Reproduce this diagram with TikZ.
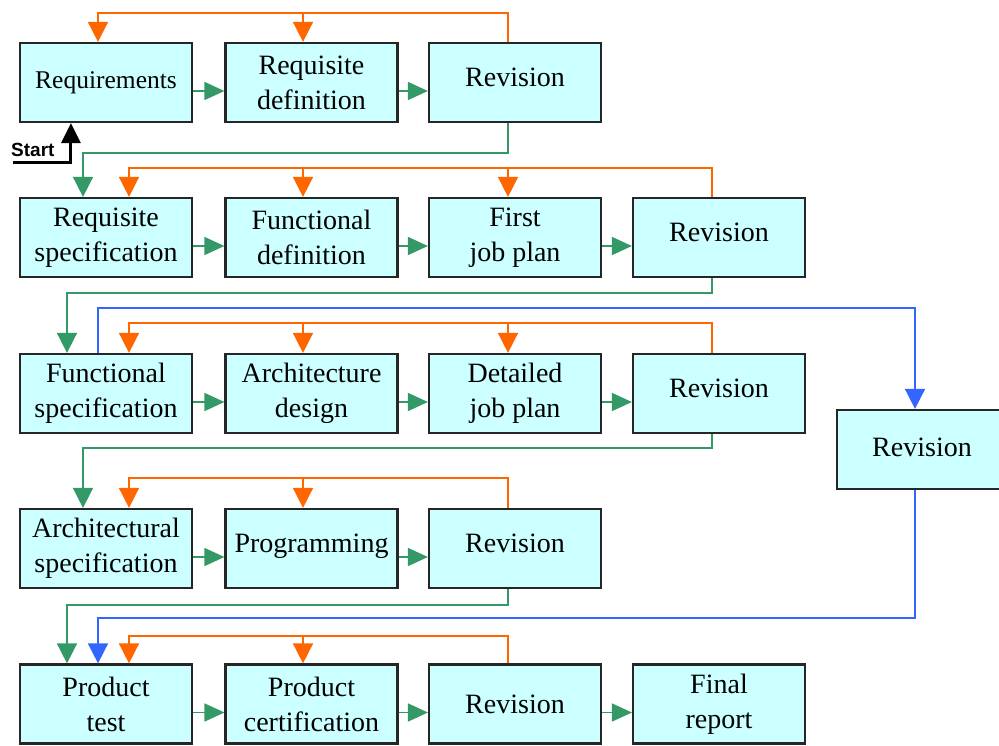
\documentclass[tikz,border=0pt]{standalone}
\usepackage{fontspec}
\setmainfont{Liberation Serif}
\newfontfamily\startfont{Liberation Sans}
\usetikzlibrary{arrows.meta}

\definecolor{boxfill}{HTML}{CCFFFF}
\definecolor{boxline}{HTML}{262626}
\definecolor{fbcol}{HTML}{FF6600}
\definecolor{flowcol}{HTML}{339966}
\definecolor{skipcol}{HTML}{3366FF}

\begin{document}
\begin{tikzpicture}[x=1pt,y=-1pt,
  stage/.style={draw=boxline, line width=2.2pt, fill=boxfill,
    minimum width=172pt, minimum height=79pt, inner sep=0pt,
    align=center, font=\fontsize{28}{35}\selectfont},
  raised/.style={text depth=#1},
  tip/.style={-{Triangle[length=20pt,width=20pt]}},
  htip/.style={-{Triangle[length=20pt,width=18pt]}},
  flow/.style={draw=flowcol, line width=1.6pt},
  fb/.style={draw=fbcol, line width=1.6pt},
  skip/.style={draw=skipcol, line width=1.6pt},
  startline/.style={draw=black, line width=3pt}
]
\useasboundingbox (0,0) rectangle (999,745);
\clip (0,0) rectangle (999,745);

% ---- stages, row by row ----
\node[stage, font=\fontsize{25.5}{30}\selectfont] (r1c1) at (106,82.5) {Requirements};
\node[stage] (r1c2) at (311.5,82.5) {Requisite\\definition};
\node[stage, raised=10pt] (r1c3) at (515,82.5) {Revision};

\node[stage] (r2c1) at (106,237.5) {Requisite\\specification};
\node[stage] (r2c2) at (311.5,237.5) {Functional\\definition};
\node[stage] (r2c3) at (515,237.5) {First\\job plan};
\node[stage, raised=10pt] (r2c4) at (719,237.5) {Revision};

\node[stage] (r3c1) at (106,393.5) {Functional\\specification};
\node[stage] (r3c2) at (311.5,393.5) {Architecture\\design};
\node[stage] (r3c3) at (515,393.5) {Detailed\\job plan};
\node[stage, raised=10pt] (r3c4) at (719,393.5) {Revision};

\node[stage] (r4c1) at (106,548.5) {Architectural\\specification};
\node[stage, raised=11pt] (r4c2) at (311.5,548.5) {Programming};
\node[stage, raised=10pt] (r4c3) at (515,548.5) {Revision};

\node[stage] (r5c1) at (106,704) {Product\\test};
\node[stage] (r5c2) at (311.5,704) {Product\\certification};
\node[stage] (r5c3) at (515,704) {Revision};
\node[stage] (r5c4) at (719,704) {Final\\report};

\node[stage, minimum width=170pt, raised=5pt] (rv) at (922,449.5) {Revision};

% ---- start marker ----
\node[font=\startfont\bfseries\fontsize{19}{19}\selectfont, anchor=base west, inner sep=0pt]
  (start) at (11,156) {Start};
\coordinate (s0) at (13,162);
\draw[startline, -{Triangle[length=20pt,width=19pt]}]
  (s0) -| ([xshift=52pt]r1c1.south west);

% ---- forward flow ----
\foreach \a/\b in {r1c1/r1c2, r1c2/r1c3,
                   r2c1/r2c2, r2c2/r2c3, r2c3/r2c4,
                   r3c1/r3c2, r3c2/r3c3, r3c3/r3c4,
                   r4c1/r4c2, r4c2/r4c3,
                   r5c1/r5c2, r5c2/r5c3, r5c3/r5c4}
  \draw[flow, htip] ([yshift=-8.5pt]\a.east) -- ([yshift=-8.5pt]\b.west);

% ---- hand-over from each revision to the next row ----
\coordinate (g1) at (83,153);
\coordinate (g2) at (67,293);
\coordinate (g3) at (83,448);
\coordinate (g4) at (67,605);
\draw[flow, tip] ([xshift=-7pt]r1c3.south) |- (g1) -- (g1 |- r2c1.north);
\draw[flow, tip] ([xshift=-7pt]r2c4.south) |- (g2) -- (g2 |- r3c1.north);
\draw[flow, tip] ([xshift=-7pt]r3c4.south) |- (g3) -- (g3 |- r4c1.north);
\draw[flow, tip] ([xshift=-7pt]r4c3.south) |- (g4) -- (g4 |- r5c1.north);

% ---- feedback from each revision ----
% row 1
\coordinate (f1a) at (98,13);
\coordinate (f1b) at (303,13);
\draw[fb, tip] ([xshift=-7pt]r1c3.north) |- (f1a) -- (f1a |- r1c1.north);
\draw[fb, tip] (f1b) -- (f1b |- r1c2.north);
% row 2
\coordinate (f2a) at (129,168);
\coordinate (f2b) at (303,168);
\coordinate (f2c) at (508,168);
\draw[fb, tip] ([xshift=-7pt]r2c4.north) |- (f2a) -- (f2a |- r2c1.north);
\draw[fb, tip] (f2b) -- (f2b |- r2c2.north);
\draw[fb, tip] (f2c) -- (f2c |- r2c3.north);
% row 3
\coordinate (f3a) at (129,323);
\coordinate (f3b) at (303,323);
\coordinate (f3c) at (508,323);
\draw[fb, tip] ([xshift=-7pt]r3c4.north) |- (f3a) -- (f3a |- r3c1.north);
\draw[fb, tip] (f3b) -- (f3b |- r3c2.north);
\draw[fb, tip] (f3c) -- (f3c |- r3c3.north);
% row 4
\coordinate (f4a) at (129,478);
\coordinate (f4b) at (303,478);
\draw[fb, tip] ([xshift=-7pt]r4c3.north) |- (f4a) -- (f4a |- r4c1.north);
\draw[fb, tip] (f4b) -- (f4b |- r4c2.north);
% row 5
\coordinate (f5a) at (129,636);
\coordinate (f5b) at (303,636);
\draw[fb, tip] ([xshift=-7pt]r5c3.north) |- (f5a) -- (f5a |- r5c1.north);
\draw[fb, tip] (f5b) -- (f5b |- r5c2.north);

% ---- overall revision loop ----
\coordinate (b1) at (915,308);
\coordinate (b2) at (98,618);
\draw[skip, tip] ([xshift=-8pt]r3c1.north) |- (b1) -- (b1 |- rv.north);
\draw[skip, tip] (b1 |- rv.south) |- (b2) -- (b2 |- r5c1.north);
\end{tikzpicture}
\end{document}
